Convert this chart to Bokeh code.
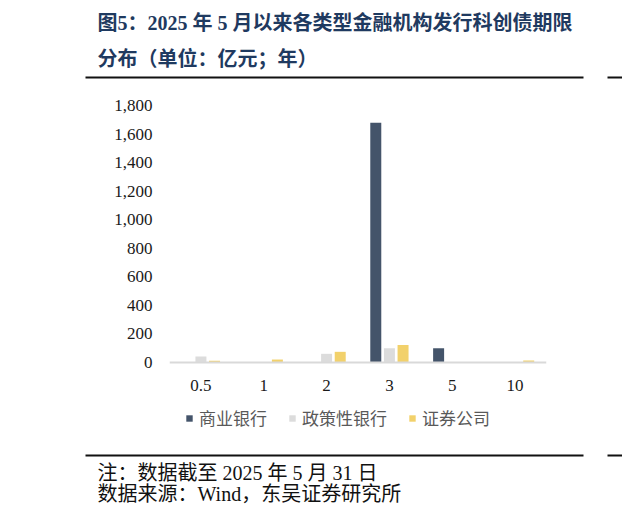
from bokeh.core.properties import value
from bokeh.embed import file_html
from bokeh.layouts import column
from bokeh.models import FactorRange, FixedTicker, Legend, NumeralTickFormatter, Range1d
from bokeh.plotting import figure
from bokeh.resources import INLINE
from bokeh.transform import dodge

# data (亿元)
tenors = ["0.5", "1", "2", "3", "5", "10"]
commercial = [0, 0, 0, 1680, 100, 0]
policy = [42, 0, 61, 100, 0, 0]
securities = [12, 21, 75, 123, 0, 14]
series_names = ["商业银行", "政策性银行", "证券公司"]
y_ticks = [0, 200, 400, 600, 800, 1000, 1200, 1400, 1600, 1800]

title_lines = ["图5：2025 年 5 月以来各类型金融机构发行科创债期限", "分布（单位：亿元；年）"]
note_lines = ["注：数据截至 2025 年 5 月 31 日", "数据来源：Wind，东吴证券研究所"]

SERIF_CJK = value("Liberation Serif, Noto Sans CJK SC")
W = 622


def blank(height):
    # plain canvas for title / notes, one data unit per pixel
    p = figure(width=W, height=height, x_range=Range1d(0, W), y_range=Range1d(0, height),
               x_axis_location=None, y_axis_location=None, toolbar_location=None,
               output_backend="svg", min_border=0, frame_align=False)
    p.grid.visible = False
    p.outline_line_color = None
    return p


# header
head = blank(92)
head.text(x=[97, 97], y=[70, 34], text=title_lines, text_font=SERIF_CJK,
          text_font_size="20px", text_font_style="bold", text_color="#1f3a60",
          text_align="left", text_baseline="middle")
head.segment(x0=[85, 607], y0=[15, 15], x1=[583, 622], y1=[15, 15],
             line_color="#111111", line_width=2)

# chart: y range runs below zero so the tick labels and legend sit inside the frame
p = figure(width=W, height=353, x_range=FactorRange(*tenors), y_range=Range1d(-581, 1800),
           toolbar_location=None, output_backend="svg", frame_align=False,
           min_border_left=169, min_border_right=76, min_border_top=13, min_border_bottom=0)
p.outline_line_color = None
p.grid.visible = False

src = dict(tenor=tenors, commercial=commercial, policy=policy, securities=securities)
r1 = p.vbar(x=dodge("tenor", -0.217, range=p.x_range), top="commercial", width=0.175,
            source=src, color="#44546a", line_color=None)
r2 = p.vbar(x=dodge("tenor", 0.0, range=p.x_range), top="policy", width=0.175,
            source=src, color="#dcdcdc", line_color=None)
r3 = p.vbar(x=dodge("tenor", 0.217, range=p.x_range), top="securities", width=0.175,
            source=src, color="#f2d16b", line_color=None)

p.xaxis.fixed_location = 0
p.xaxis.axis_line_color = "#d9d9d9"
p.xaxis.axis_line_width = 2
p.xaxis.major_tick_line_color = None
p.xaxis.minor_tick_line_color = None
p.xaxis.major_label_standoff = 11
p.xaxis.major_label_text_font = "Liberation Serif"
p.xaxis.major_label_text_font_size = "17px"
p.xaxis.major_label_text_color = "#1a1a1a"

p.yaxis.axis_line_color = None
p.yaxis.major_tick_line_color = None
p.yaxis.minor_tick_line_color = None
p.yaxis.ticker = FixedTicker(ticks=y_ticks)
p.yaxis.formatter = NumeralTickFormatter(format="0,0")
p.yaxis.major_label_standoff = 11
p.yaxis.major_label_text_font = "Liberation Serif"
p.yaxis.major_label_text_font_size = "17px"
p.yaxis.major_label_text_color = "#1a1a1a"

legend = Legend(items=[(series_names[0], [r1]), (series_names[1], [r2]), (series_names[2], [r3])],
                orientation="horizontal", location=(16, 15), padding=0, margin=0,
                spacing=21, glyph_width=8, glyph_height=8, label_standoff=6,
                label_text_font="Noto Sans CJK SC", label_text_font_size="17px",
                label_text_color="#595959", background_fill_alpha=0, border_line_color=None)
p.add_layout(legend)

# footer
foot = blank(78)
foot.segment(x0=[85, 607], y0=[68, 68], x1=[583, 622], y1=[68, 68],
             line_color="#111111", line_width=2)
foot.text(x=[97, 97], y=[51, 30], text=note_lines, text_font=SERIF_CJK,
          text_font_size="20px", text_color="#111111",
          text_align="left", text_baseline="middle")

layout = column(head, p, foot)
open("out.html", "w").write(file_html(layout, INLINE))
